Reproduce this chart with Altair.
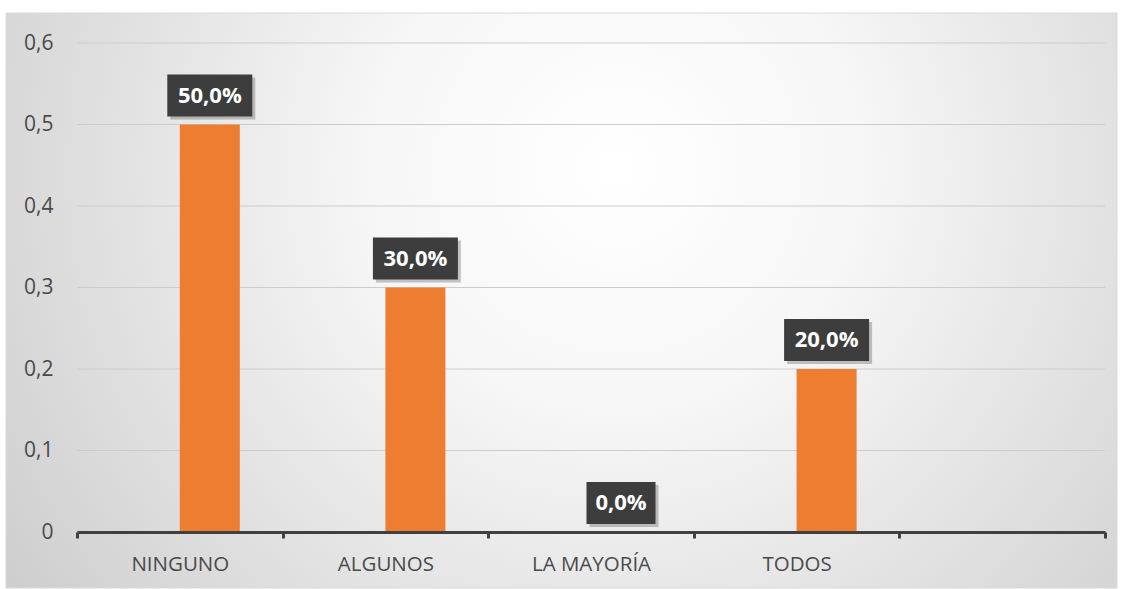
import altair as alt
import pandas as pd

categories = ["NINGUNO", "ALGUNOS", "LA MAYORÍA", "TODOS", " "]
values = [0.5, 0.3, 0.0, 0.2, None]
labels = ["50,0%", "30,0%", "0,0%", "20,0%", ""]
grid_values = [0.1, 0.2, 0.3, 0.4, 0.5, 0.6]

df = pd.DataFrame({"cat": categories, "val": values, "lab": labels})
bars_df = df.dropna()
grid_df = pd.DataFrame({"g": grid_values})

FONT = "Open Sans"
ORANGE = "#ED7D31"
BOX = "#3d3d3d"

xenc = alt.X(
    "cat:N",
    sort=categories,
    scale=alt.Scale(domain=categories, paddingInner=0, paddingOuter=0),
    axis=alt.Axis(
        title=None,
        labelAngle=0,
        labelFont=FONT,
        labelFontSize=20.5,
        labelColor="#4a4a4a",
        labelPadding=16,
        domainColor="#404040",
        domainWidth=3,
        tickColor="#404040",
        tickWidth=3,
        tickSize=6,
        tickBand="extent",
        zindex=1,
    ),
)
yscale = alt.Scale(domain=[0, 0.6], nice=False)
yenc = alt.Y(
    "val:Q",
    scale=yscale,
    axis=alt.Axis(
        title=None,
        values=[0, 0.1, 0.2, 0.3, 0.4, 0.5, 0.6],
        labelExpr="datum.value == 0 ? '0' : replace(format(datum.value, '.1f'), '.', ',')",
        labelFont=FONT,
        labelFontSize=21,
        labelColor="#4a4a4a",
        labelPadding=24,
        grid=False,
        domain=False,
        ticks=False,
        zindex=1,
    ),
)

background = alt.Chart(pd.DataFrame({"a": [0]})).mark_rect(
    fill={
        "gradient": "radial",
        "x1": 0.55, "y1": 0.38, "r1": 0,
        "x2": 0.55, "y2": 0.38, "r2": 0.75,
        "stops": [
            {"offset": 0, "color": "#ffffff"},
            {"offset": 0.3, "color": "#f6f6f6"},
            {"offset": 1, "color": "#c6c6c6"},
        ],
    },
    stroke="#d9d9d9",
    strokeWidth=1,
).encode(
    x=alt.value(-71), x2=alt.value(1040), y=alt.value(-30), y2=alt.value(545)
)

gridlines = alt.Chart(grid_df).mark_rule(color="#cccccc", strokeWidth=1).encode(
    y=alt.Y("g:Q", scale=yscale)
)

bars = alt.Chart(bars_df).mark_bar(size=60, xOffset=30, color=ORANGE).encode(
    x=xenc, y=yenc
)

wide = bars_df[bars_df["lab"].str.len() == 5]
narrow = bars_df[bars_df["lab"].str.len() == 4]

def boxes(d, w):
    shadow = alt.Chart(d).mark_rect(
        width=w, height=42, xOffset=33, yOffset=-26, color="#000000", opacity=0.22
    ).encode(x=alt.X("cat:N", sort=categories), y=alt.Y("val:Q", scale=yscale))
    box = alt.Chart(d).mark_rect(
        width=w, height=42, xOffset=30, yOffset=-29, color=BOX
    ).encode(x=alt.X("cat:N", sort=categories), y=alt.Y("val:Q", scale=yscale))
    return shadow + box

texts = alt.Chart(bars_df).mark_text(
    font=FONT, fontSize=22, fontWeight="bold", color="white",
    xOffset=30, yOffset=-29, baseline="middle", align="center"
).encode(x=alt.X("cat:N", sort=categories), y=alt.Y("val:Q", scale=yscale), text="lab:N")

chart = alt.layer(
    background, gridlines, bars, boxes(wide, 85), boxes(narrow, 69), texts
).properties(
    width=1028,
    height=489,
    autosize=alt.AutoSizeParams(type="none"),
    padding={"left": 77, "top": 43, "right": 18, "bottom": 57},
    background="white",
).configure_view(stroke=None)

chart.save("out.html", embed_options={"renderer": "svg", "actions": False})
